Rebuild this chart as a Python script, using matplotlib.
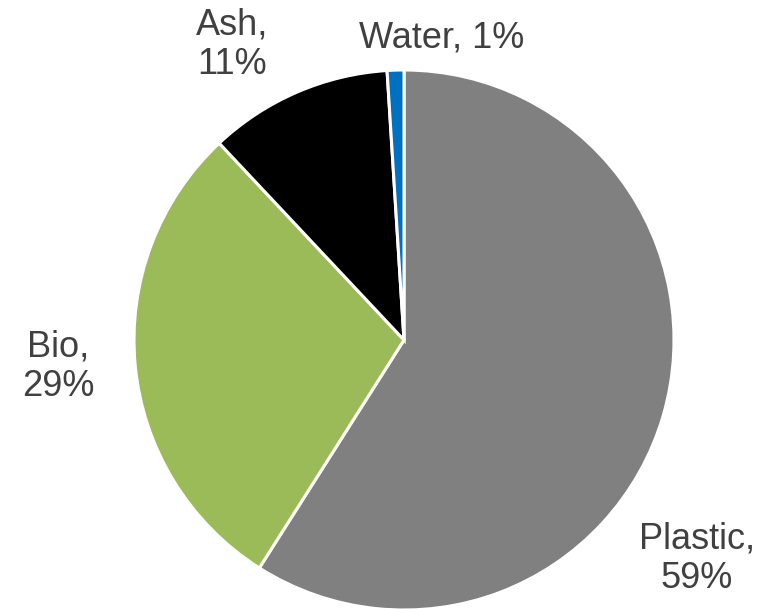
import matplotlib
matplotlib.use("Agg")
import matplotlib.pyplot as plt

# Composition shares (%)
componenter = ["Plastic", "Bio", "Ash", "Water"]
andeler = [59, 29, 11, 1]
farger = ["#808080", "#9BBB59", "#000000", "#0070C0"]
etiketter = ["Plastic,\n59%", "Bio,\n29%", "Ash,\n11%", "Water, 1%"]

plt.rcParams["font.family"] = ["Liberation Sans", "DejaVu Sans"]

W, H = 763, 609
fig = plt.figure(figsize=(W / 100, H / 100), dpi=100)
ax = fig.add_axes([0, 0, 1, 1])

ax.pie(andeler, colors=farger, startangle=90, counterclock=False,
       center=(404, H - 340), radius=270,
       wedgeprops=dict(edgecolor="white", linewidth=2.2))

# pie() resets the limits, so set pixel-based limits afterwards
ax.set_xlim(0, W)
ax.set_ylim(0, H)
ax.set_aspect("equal")
ax.axis("off")

# Label placement (pixel positions, y from top)
plasseringer = [(697, 559), (58, 367), (232, 45), (442, 38)]
for tekst, (x, y) in zip(etiketter, plasseringer):
    ax.text(x, H - y, tekst, ha="center", va="center", fontsize=26,
            color="#404040", linespacing=1.18)

fig.savefig("out.png", dpi=100)
